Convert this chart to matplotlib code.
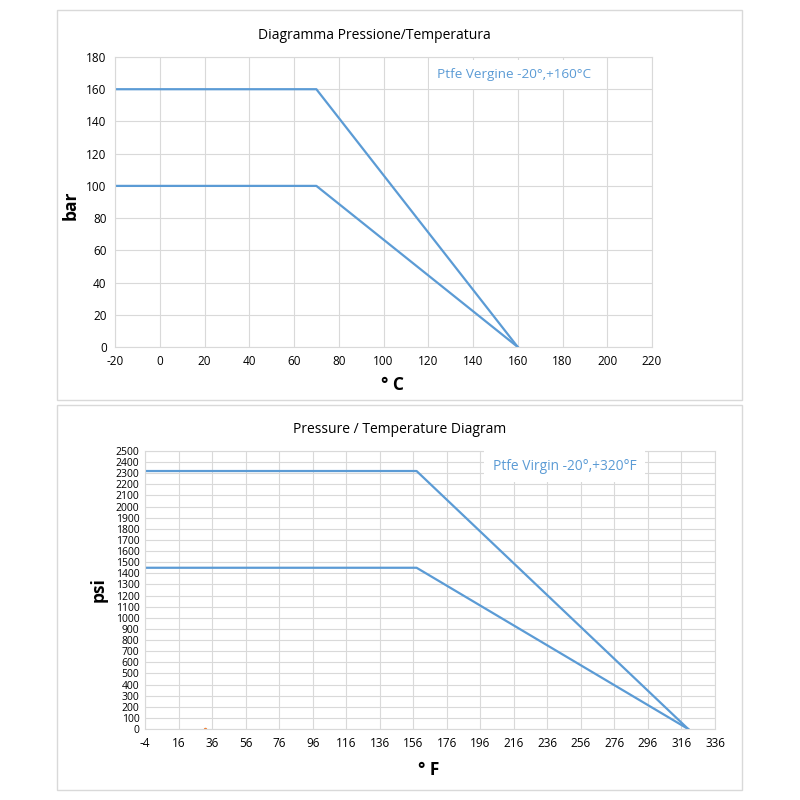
import matplotlib
matplotlib.use("Agg")
import matplotlib.pyplot as plt
from matplotlib.patches import Rectangle

plt.rcParams['font.family'] = ['Open Sans', 'DejaVu Sans']
plt.rcParams['axes.unicode_minus'] = False

# Top chart (°C / bar)
c_x_ticks = list(range(-20, 221, 20))
c_y_ticks = list(range(0, 181, 20))
c_temp = [-20, 70, 160]
c_high = [160, 160, 0]
c_low = [100, 100, 0]

# Bottom chart (°F / psi)
f_x_ticks = list(range(-4, 337, 20))
f_y_ticks = list(range(0, 2501, 100))
f_temp = [-4, 158, 320]
f_high = [2320, 2320, 0]
f_low = [1450, 1450, 0]
f_marker_x = [32]
f_marker_y = [0]

blue = '#5B9BD5'
grid = '#D9D9D9'

fig = plt.figure(figsize=(8, 8), dpi=100)

# panel borders
for (x0, y0, x1, y1) in [(57, 10, 742, 400), (57, 405, 742, 790)]:
    fig.patches.append(Rectangle((x0 / 800, 1 - y1 / 800), (x1 - x0) / 800, (y1 - y0) / 800,
                                 transform=fig.transFigure, fill=False,
                                 edgecolor=grid, linewidth=1.0))

def style(ax):
    ax.grid(True, color=grid, linewidth=0.8)
    ax.set_axisbelow(True)
    for s in ax.spines.values():
        s.set_color(grid)
        s.set_linewidth(0.8)
    ax.tick_params(length=0, labelsize=8.5, colors='black', pad=6)

# top
ax1 = fig.add_axes([115 / 800, 1 - 347 / 800, 537 / 800, 290 / 800])
ax1.plot(c_temp, c_high, color=blue, linewidth=1.6)
ax1.plot(c_temp, c_low, color=blue, linewidth=1.6)
ax1.set_xlim(-20, 220)
ax1.set_ylim(0, 180)
ax1.set_xticks(c_x_ticks)
ax1.set_yticks(c_y_ticks)
style(ax1)
ax1.set_ylabel('bar', fontsize=12.5, fontweight='bold')
ax1.set_xlabel('° C', fontsize=12.5, fontweight='bold')
ax1.yaxis.set_label_coords(-0.065, 0.49)
ax1.xaxis.set_label_coords(0.516, -0.10)
ax1.set_title('Diagramma Pressione/Temperatura', fontsize=10, color='black', pad=13, x=0.483)
ax1.text(0.6, 0.94, 'Ptfe Vergine -20°,+160°C', transform=ax1.transAxes,
         ha='left', va='center', fontsize=9.7, color=blue,
         bbox=dict(facecolor='white', edgecolor='none', pad=6))

# bottom
ax2 = fig.add_axes([145 / 800, 1 - 729 / 800, 570 / 800, 278 / 800])
ax2.plot(f_temp, f_high, color=blue, linewidth=1.6)
ax2.plot(f_temp, f_low, color=blue, linewidth=1.6)
ax2.plot(f_marker_x, f_marker_y, linestyle='none', marker='o', markersize=1.5, color='#ED7D31')
ax2.set_xlim(-4, 336)
ax2.set_ylim(0, 2500)
ax2.set_xticks(f_x_ticks)
ax2.set_yticks(f_y_ticks)
style(ax2)
ax2.tick_params(axis='y', pad=4, labelsize=7.5)
ax2.set_ylabel('psi', fontsize=12.5, fontweight='bold')
ax2.set_xlabel('° F', fontsize=12.5, fontweight='bold')
ax2.yaxis.set_label_coords(-0.065, 0.5)
ax2.xaxis.set_label_coords(0.497, -0.115)
ax2.set_title('Pressure / Temperature Diagram', fontsize=10, color='black', pad=13, x=0.447)
ax2.text(0.61, 0.945, 'Ptfe Virgin -20°,+320°F', transform=ax2.transAxes,
         ha='left', va='center', fontsize=9.9, color=blue,
         bbox=dict(facecolor='white', edgecolor='none', pad=6))

fig.savefig('out.png', dpi=100)
